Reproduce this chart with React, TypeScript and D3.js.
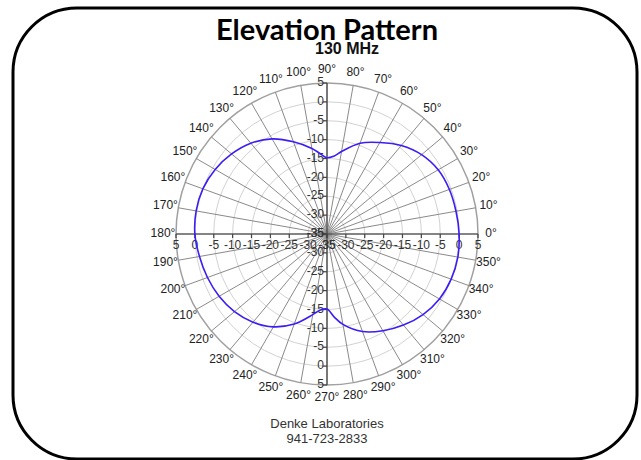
import * as d3 from "d3";

// elevation pattern readings, degrees (0 = east, counter-clockwise) and dB
const angles = [
  0, 10, 20, 30, 40, 50, 60, 70, 80, 85, 90, 95, 100, 110, 120, 130, 140, 150, 160, 170,
  180, 190, 200, 210, 220, 230, 240, 250, 260, 265, 270, 275, 280, 290, 300, 310, 320, 330, 340, 350,
];
const gainDb = [
  0.0, -0.3, -0.5, -1.0, -2.3, -4.4, -7.0, -9.4, -12.8, -14.3, -14.8, -13.6, -12.0, -9.0, -5.9, -3.6, -2.0, -0.8, 0.0, 0.2,
  0.0, -0.7, -1.3, -2.0, -3.0, -4.5, -6.6, -9.6, -13.3, -14.8, -15.1, -12.9, -10.7, -7.5, -5.4, -3.5, -1.8, -0.6, 0.0, 0.2,
];
const ringTicks = [5, 0, -5, -10, -15, -20, -25, -30, -35];
const spokeAngles = d3.range(0, 360, 10);

const width = 641;
const height = 460;
const cx = 327;
const cy = 234;
const outerR = 151;
const narrow = "'Liberation Sans Narrow', 'Arial Narrow', Arial, sans-serif";

export default function App() {
  const r = d3.scaleLinear().domain([-35, 5]).range([0, outerR]);
  const rad = (deg: number) => (deg * Math.PI) / 180;
  const px = (deg: number, rr: number) => cx + rr * Math.cos(rad(deg));
  const py = (deg: number, rr: number) => cy - rr * Math.sin(rad(deg));

  const points = angles.map((a, i) => ({ a, v: gainDb[i] }));
  const line = d3
    .lineRadial<{ a: number; v: number }>()
    .angle((d) => rad(90 - d.a))
    .radius((d) => r(d.v))
    .curve(d3.curveCatmullRomClosed.alpha(0.5));

  const rings = ringTicks.filter((t) => t > -35);

  return (
    <svg
      width={width}
      height={height}
      style={{ position: "absolute", left: 0, top: 0, background: "#fff" }}
    >
      <rect x={13} y={8} width={624} height={451} rx={64} fill="#fff" stroke="#000" strokeWidth={3} />

      <text
        x={cx}
        y={40}
        textAnchor="middle"
        fontFamily="Lato, 'Open Sans', sans-serif"
        fontWeight="bold"
        fontSize={29}
        fill="#000"
      >
        Elevation Pattern
      </text>
      <text x={cx + 20} y={54} textAnchor="middle" fontFamily={narrow} fontWeight="bold" fontSize={16} fill="#111">
        130 MHz
      </text>

      {/* rings */}
      <g fill="none">
        {rings.map((t) => (
          <circle
            key={t}
            cx={cx}
            cy={cy}
            r={r(t)}
            stroke={t === 5 ? "#a0a0a0" : "#d2d2d2"}
            strokeWidth={t === 5 ? 1.5 : 1}
          />
        ))}
      </g>

      {/* spokes */}
      <g stroke="#8a8a8a" strokeWidth={1}>
        {spokeAngles.map((a) => (
          <line key={a} x1={cx} y1={cy} x2={px(a, outerR)} y2={py(a, outerR)} />
        ))}
      </g>

      {/* axes */}
      <g stroke="#444" strokeWidth={1.2}>
        <line x1={cx - outerR} y1={cy} x2={cx + outerR} y2={cy} />
        <line x1={cx} y1={cy - outerR} x2={cx} y2={cy + outerR} />
        {ringTicks.map((t) => (
          <g key={t}>
            <line x1={cx - r(t)} y1={cy} x2={cx - r(t)} y2={cy + 4} />
            <line x1={cx + r(t)} y1={cy} x2={cx + r(t)} y2={cy + 4} />
            <line x1={cx} y1={cy - r(t)} x2={cx - 4} y2={cy - r(t)} />
            <line x1={cx} y1={cy + r(t)} x2={cx - 4} y2={cy + r(t)} />
          </g>
        ))}
      </g>

      {/* axis labels */}
      <g fontFamily={narrow} fontSize={12} fill="#333">
        {ringTicks.map((t) => (
          <g key={t}>
            <text x={cx - r(t)} y={cy + 12} textAnchor="middle" dominantBaseline="middle">
              {t}
            </text>
            <text x={cx + r(t)} y={cy + 12} textAnchor="middle" dominantBaseline="middle">
              {t}
            </text>
            <text x={cx - 3} y={cy - r(t)} textAnchor="end" dominantBaseline="middle">
              {t}
            </text>
            <text x={cx - 3} y={cy + r(t)} textAnchor="end" dominantBaseline="middle">
              {t}
            </text>
          </g>
        ))}
      </g>

      {/* pattern */}
      <path
        d={line(points) ?? ""}
        transform={`translate(${cx},${cy})`}
        fill="none"
        stroke="#3b1df5"
        strokeWidth={1.6}
      />

      {/* degree labels */}
      <g fontFamily={narrow} fontSize={12} fill="#222">
        {spokeAngles.map((a) => (
          <text
            key={a}
            x={px(a, 164)}
            y={py(a, 164)}
            textAnchor="middle"
            dominantBaseline="middle"
          >
            {a}°
          </text>
        ))}
      </g>

      <g fontFamily="'Liberation Sans', Arial, sans-serif" fontSize={13} fill="#333" textAnchor="middle">
        <text x={cx} y={428}>
          Denke Laboratories
        </text>
        <text x={cx} y={443}>
          941-723-2833
        </text>
      </g>
    </svg>
  );
}
